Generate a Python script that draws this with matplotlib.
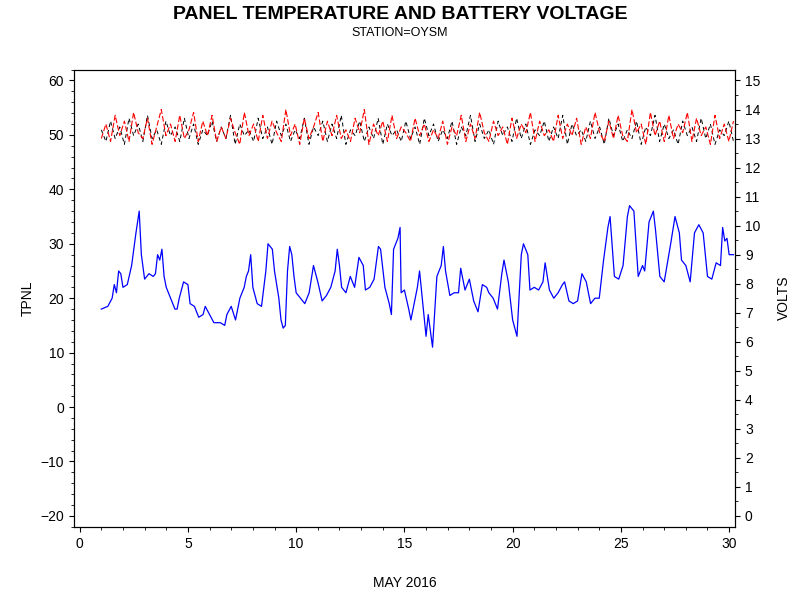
import numpy as np
import matplotlib
matplotlib.use("Agg")
import matplotlib.pyplot as plt
from matplotlib.ticker import MultipleLocator

plt.rcParams['font.family'] = ['Liberation Sans', 'DejaVu Sans']

# panel temperature (day of May, degrees)
t_day = [1.0, 1.3, 1.5, 1.6, 1.7, 1.8, 1.9, 2.0, 2.2, 2.4, 2.6, 2.75, 2.85, 3.0, 3.2, 3.4, 3.5, 3.6, 3.7, 3.8,
         3.9, 4.0, 4.2, 4.4, 4.5, 4.6, 4.8, 5.0, 5.1, 5.3, 5.5, 5.7, 5.8, 6.0, 6.2, 6.5, 6.7, 6.8, 7.0, 7.2,
         7.4, 7.6, 7.7, 7.8, 7.9, 8.0, 8.2, 8.4, 8.6, 8.7, 8.9, 9.0, 9.2, 9.3, 9.4, 9.5, 9.6, 9.7, 9.8, 9.9,
         10.0, 10.2, 10.4, 10.6, 10.8, 11.0, 11.2, 11.4, 11.6, 11.8, 11.9, 12.0, 12.1, 12.3, 12.5, 12.7, 12.9,
         13.1, 13.2, 13.4, 13.6, 13.8, 13.9, 14.1, 14.3, 14.4, 14.5, 14.7, 14.8, 14.85, 15.0, 15.2, 15.3, 15.6,
         15.7, 15.8, 16.0, 16.1, 16.3, 16.5, 16.7, 16.8, 16.9, 17.1, 17.3, 17.5, 17.6, 17.8, 18.0, 18.2, 18.4,
         18.6, 18.8, 18.9, 19.1, 19.3, 19.5, 19.6, 19.8, 20.0, 20.2, 20.4, 20.5, 20.7, 20.8, 21.0, 21.2, 21.4,
         21.5, 21.7, 21.9, 22.1, 22.3, 22.4, 22.6, 22.8, 23.0, 23.2, 23.4, 23.6, 23.8, 24.0, 24.2, 24.4, 24.5,
         24.7, 24.9, 25.1, 25.3, 25.4, 25.6, 25.8, 26.0, 26.1, 26.3, 26.5, 26.6, 26.8, 27.0, 27.3, 27.5, 27.7,
         27.8, 28.0, 28.2, 28.4, 28.6, 28.8, 29.0, 29.2, 29.4, 29.6, 29.7, 29.8, 29.9, 30.0, 30.2]
tpnl = [18, 18.5, 20, 22.5, 21, 25, 24.5, 22, 22.5, 26, 32, 36, 28, 23.5, 24.5, 24, 24.5, 28, 27, 29,
        24, 22, 20, 18, 18, 20, 23, 22.5, 19, 18.5, 16.5, 17, 18.5, 17, 15.5, 15.5, 15, 17, 18.5, 16,
        20, 22, 24, 25, 28, 22, 19, 18.5, 25, 30, 29, 25, 20, 16, 14.5, 15, 25, 29.5, 28, 24,
        21, 20, 19, 21, 26, 23, 19.5, 20.5, 22, 25, 29, 26, 22, 21, 24, 22, 27.5,
        26, 21.5, 22, 23.5, 29.5, 29, 22, 19, 17, 29, 31, 33, 21, 21.5, 18, 16, 22,
        25, 21, 13, 17, 11, 24, 26, 29.5, 25, 20.5, 21, 21, 25.5, 21.5, 23.5, 19.5, 17.5,
        22.5, 22, 21, 20, 18, 24.5, 27, 23, 16, 13, 28, 30, 28, 21.5, 22, 21.5, 23,
        26.5, 21.5, 20, 21, 22.5, 23, 19.5, 19, 19.5, 24.5, 23, 19, 20, 20, 27, 33, 35,
        24, 23.5, 26, 35, 37, 36, 24, 26, 25, 34, 36, 32.5, 24, 23, 30, 35, 32,
        27, 26, 23, 32, 33.5, 32, 24, 23.5, 26.5, 26, 33, 30.5, 31, 28, 28]

# battery voltage, evenly sampled from May 1 to May 30
volts_red = [13.0, 13.5, 12.9, 13.8, 13.1, 13.6, 12.9, 13.9, 13.2, 13.0, 13.7, 12.8, 13.4, 14.0, 13.1,
             13.5, 12.9, 13.8, 13.0, 13.3, 13.9, 12.9, 13.6, 13.1, 13.8, 12.9, 13.4, 13.0, 13.7, 13.2,
             12.8, 13.9, 13.1, 13.5, 12.9, 13.8, 13.0, 13.6, 13.2, 12.9, 14.0, 13.1, 13.5, 12.8, 13.7,
             13.0, 13.4, 13.9, 12.9, 13.6, 13.1, 13.8, 13.0, 13.3, 12.9, 13.7, 13.2, 14.0, 12.8, 13.5,
             13.1, 13.6, 12.9, 13.8, 13.0, 13.4, 13.2, 12.9, 13.7, 13.1, 13.5, 12.9, 13.3, 13.0, 13.6,
             12.8, 13.4, 13.1, 13.8, 12.9, 13.5, 13.0, 13.9, 13.2, 12.9, 13.6, 13.1, 13.4, 12.8, 13.7,
             13.0, 13.5, 13.2, 13.9, 12.9, 13.6, 13.1, 13.3, 12.9, 13.8, 13.0, 13.5, 13.1, 13.7, 12.8,
             13.4, 13.0, 13.9, 13.2, 12.9, 13.6, 13.0, 13.8, 13.1, 12.9, 14.0, 13.2, 13.5, 12.8, 13.9,
             13.1, 13.6, 12.9, 13.8, 13.0, 13.5, 13.2, 13.9, 12.9, 13.7, 13.1, 13.4, 12.8, 13.8, 13.0,
             13.5, 12.9, 13.6]
volts_blk = [13.3, 12.9, 13.6, 13.0, 13.4, 12.8, 13.7, 13.1, 13.5, 12.9, 13.8, 13.0, 13.3, 12.8, 13.6,
             13.1, 13.4, 12.9, 13.7, 13.0, 13.5, 12.8, 13.3, 13.1, 13.6, 12.9, 13.4, 13.0, 13.8, 12.8,
             13.5, 13.1, 13.3, 12.9, 13.7, 13.0, 13.4, 12.8, 13.6, 13.1, 13.5, 12.9, 13.3, 13.0, 13.7,
             12.8, 13.4, 13.1, 13.6, 12.9, 13.5, 13.0, 13.8, 12.8, 13.3, 13.1, 13.6, 12.9, 13.4, 13.0,
             13.7, 12.8, 13.5, 13.1, 13.3, 12.9, 13.6, 13.0, 13.4, 12.8, 13.7, 13.1, 13.5, 12.9, 13.3,
             13.0, 13.6, 12.8, 13.4, 13.1, 13.8, 12.9, 13.5, 13.0, 13.3, 12.8, 13.6, 13.1, 13.4, 12.9,
             13.7, 13.0, 13.5, 12.8, 13.3, 13.1, 13.6, 12.9, 13.4, 13.0, 13.8, 12.8, 13.5, 13.1, 13.3,
             12.9, 13.6, 13.0, 13.4, 12.8, 13.7, 13.1, 13.5, 12.9, 13.3, 13.0, 13.6, 12.8, 13.4, 13.1,
             13.8, 12.9, 13.5, 13.0, 13.3, 12.8, 13.6, 13.1, 13.4, 12.9, 13.7, 13.0, 13.5, 12.8, 13.3,
             13.1, 13.6, 12.9]
v_day = np.linspace(1.0, 30.2, len(volts_red))

fig = plt.figure(figsize=(8, 6), dpi=100)
ax = fig.add_axes([0.092, 0.122, 0.827, 0.762])
ax.plot(t_day, tpnl, color="blue", linewidth=0.9)
ax.set_xlim(-0.28, 30.28)
ax.set_ylim(-22, 62)
ax.xaxis.set_major_locator(MultipleLocator(5))
ax.xaxis.set_minor_locator(MultipleLocator(1))
ax.yaxis.set_major_locator(MultipleLocator(10))
ax.yaxis.set_minor_locator(MultipleLocator(2))
ax.set_ylabel("TPNL", fontsize=10)
ax.set_xlabel("MAY 2016", fontsize=10, labelpad=18)

ax2 = ax.twinx()
ax2.plot(v_day, volts_blk, color="black", linewidth=0.7, dashes=(4, 3))
ax2.plot(v_day, volts_red, color="red", linewidth=0.8, dashes=(5, 2))
ax2.set_ylim(-22 * 0.1875 + 3.75, 62 * 0.1875 + 3.75)
ax2.yaxis.set_major_locator(MultipleLocator(1))
ax2.yaxis.set_minor_locator(MultipleLocator(0.5))
ax2.set_ylabel("VOLTS", fontsize=10, labelpad=12)

for a in (ax, ax2):
    a.tick_params(labelsize=10)

fig.text(0.5, 0.968, "PANEL TEMPERATURE AND BATTERY VOLTAGE", ha="center",
         fontsize=14, fontweight="bold")
fig.text(0.5, 0.94, "STATION=OYSM", ha="center", fontsize=9)

fig.savefig("out.png", dpi=100)
